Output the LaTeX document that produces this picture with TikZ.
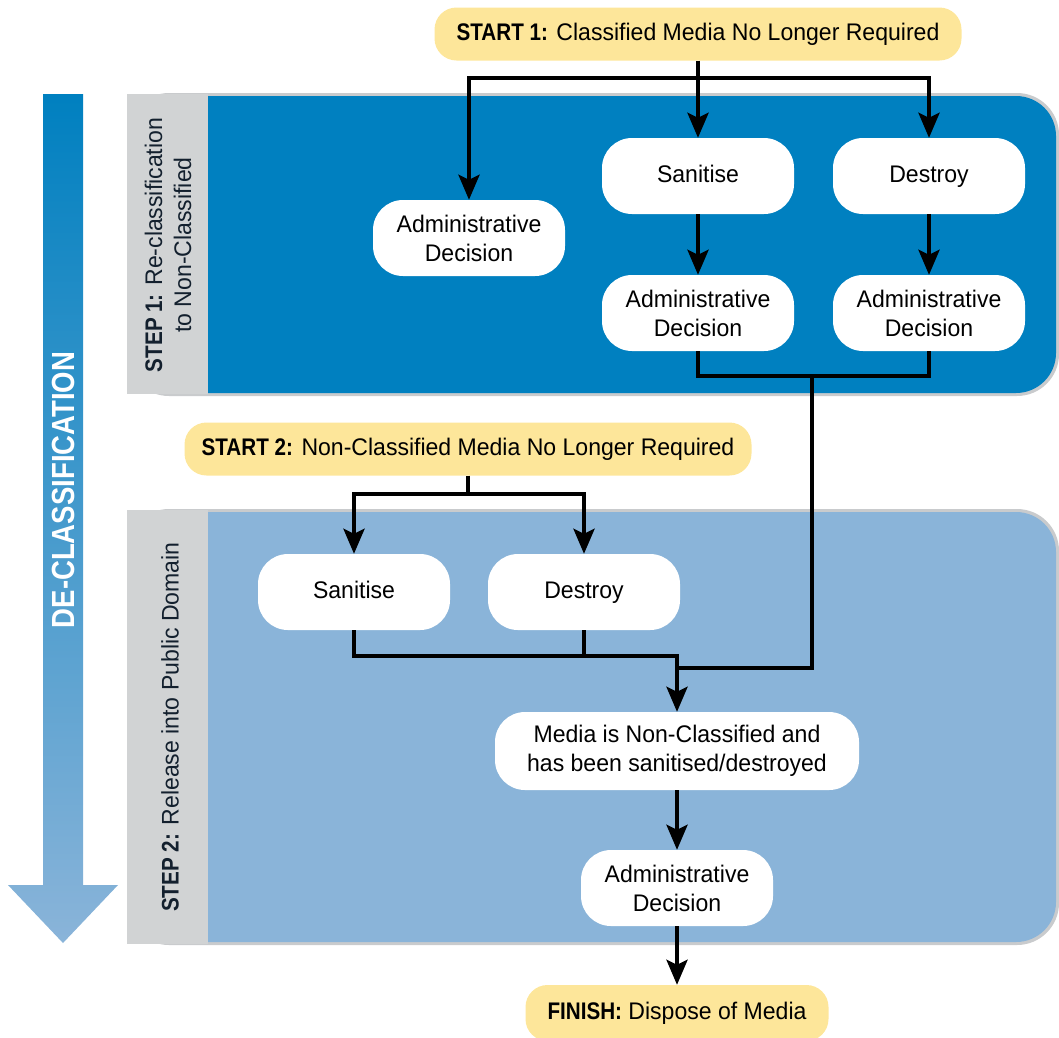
\documentclass[tikz,border=0pt]{standalone}
\usepackage{fontspec}
\setmainfont{Liberation Sans}[FakeStretch=0.96, BoldFeatures={FakeStretch=0.86}]
\usetikzlibrary{arrows.meta}

\definecolor{darkpanel}{HTML}{0080C0}
\definecolor{lightpanel}{HTML}{8AB4D9}
\definecolor{stripgray}{HTML}{D1D3D4}
\definecolor{edgegray}{HTML}{C9CBCD}
\definecolor{startyellow}{HTML}{FDE69A}
\definecolor{labelink}{HTML}{13202E}

\tikzset{
  txt/.style={font=\fontsize{24}{29}\selectfont, text=black, align=center, inner sep=0pt},
  oneline/.style={text height=17pt, text depth=5pt},
  stage/.style={txt, fill=white, rounded corners=30pt, minimum width=192pt, minimum height=76pt},
  terminal/.style={txt, oneline, fill=startyellow, rounded corners=22pt, minimum height=53pt},
  steplabel/.style={font=\fontsize{24}{29}\selectfont, text=labelink, align=center, rotate=90, inner sep=0pt},
  conn/.style={line width=4pt, line join=miter, draw=black},
  arr/.style={conn, -{Stealth[length=25pt, width=21pt, inset=5pt]}},
}

\begin{document}
\begin{tikzpicture}[x=1pt, y=-1pt]
\useasboundingbox (0,0) rectangle (1059,1037);

% descending stage arrow
\shade[top color=darkpanel, bottom color=lightpanel]
  (43,94) -- (83,94) -- (83,885) -- (118,885) -- (63,943) -- (8,885) -- (43,885) -- cycle;
\node[font=\fontsize{32}{36}\selectfont\bfseries, text=white, rotate=90, inner sep=0pt] (declass) at (63,490) {DE-CLASSIFICATION};

% step 1 panel
\fill[edgegray, rounded corners=42pt] (127,93) rectangle (1059,396);
\fill[darkpanel, rounded corners=40pt] (127,96) rectangle (1056,393);
\fill[stripgray] (127,94) rectangle (208,394);
\node[steplabel] (step1) at (168,245) {\textbf{STEP 1:} Re-classification\\to Non-Classified};

% step 2 panel
\fill[edgegray, rounded corners=42pt] (127,509) rectangle (1059,945);
\fill[lightpanel, rounded corners=40pt] (127,512) rectangle (1056,942);
\fill[stripgray] (127,510) rectangle (208,944);
\node[steplabel] (step2) at (170,727) {\textbf{STEP 2:} Release into Public Domain};

% flow nodes
\node[terminal, minimum width=527pt] (start1) at (698,34) {\textbf{START 1:} Classified Media No Longer Required};
\node[stage] (adm0) at (469,238) {Administrative\\Decision};
\node[stage, oneline] (san1) at (698,176) {Sanitise};
\node[stage, oneline] (des1) at (929,176) {Destroy};
\node[stage] (adm1) at (698,313) {Administrative\\Decision};
\node[stage] (adm2) at (929,313) {Administrative\\Decision};

\node[terminal, minimum width=567pt] (start2) at (468,449) {\textbf{START 2:} Non-Classified Media No Longer Required};
\node[stage, oneline] (san2) at (354,592) {Sanitise};
\node[stage, oneline] (des2) at (584,592) {Destroy};
\node[stage, minimum width=364pt, minimum height=78pt] (media) at (677,751) {Media is Non-Classified and\\has been sanitised/destroyed};
\node[stage] (admf) at (677,888) {Administrative\\Decision};
\node[terminal, minimum width=303pt, minimum height=56pt] (finish) at (677,1013) {\textbf{FINISH:} Dispose of Media};

% junction points
\coordinate (j1) at (698,78);
\coordinate (jb) at (812,376);
\coordinate (js) at (468,494);
\coordinate (jl) at (677,656);
\coordinate (jm) at (677,668);

% step 1 connectors
\draw[arr] (start1.south) -- (san1.north);
\draw[arr] (j1) -| (adm0.north);
\draw[arr] (j1) -| (des1.north);
\draw[arr] (san1.south) -- (adm1.north);
\draw[arr] (des1.south) -- (adm2.north);
\draw[conn] (adm1.south) |- (jb) -| (adm2.south);
\draw[conn] (jb) |- (jm);

% step 2 connectors
\draw[conn] (start2.south) -- (js);
\draw[arr] (js) -| (san2.north);
\draw[arr] (js) -| (des2.north);
\draw[conn] (san2.south) |- (jl) -- (jm);
\draw[conn] (des2.south) -- (des2.south |- jl);
\draw[arr] (jl) -- (media.north);
\draw[arr] (media.south) -- (admf.north);
\draw[arr] (admf.south) -- (finish.north);
\end{tikzpicture}
\end{document}
